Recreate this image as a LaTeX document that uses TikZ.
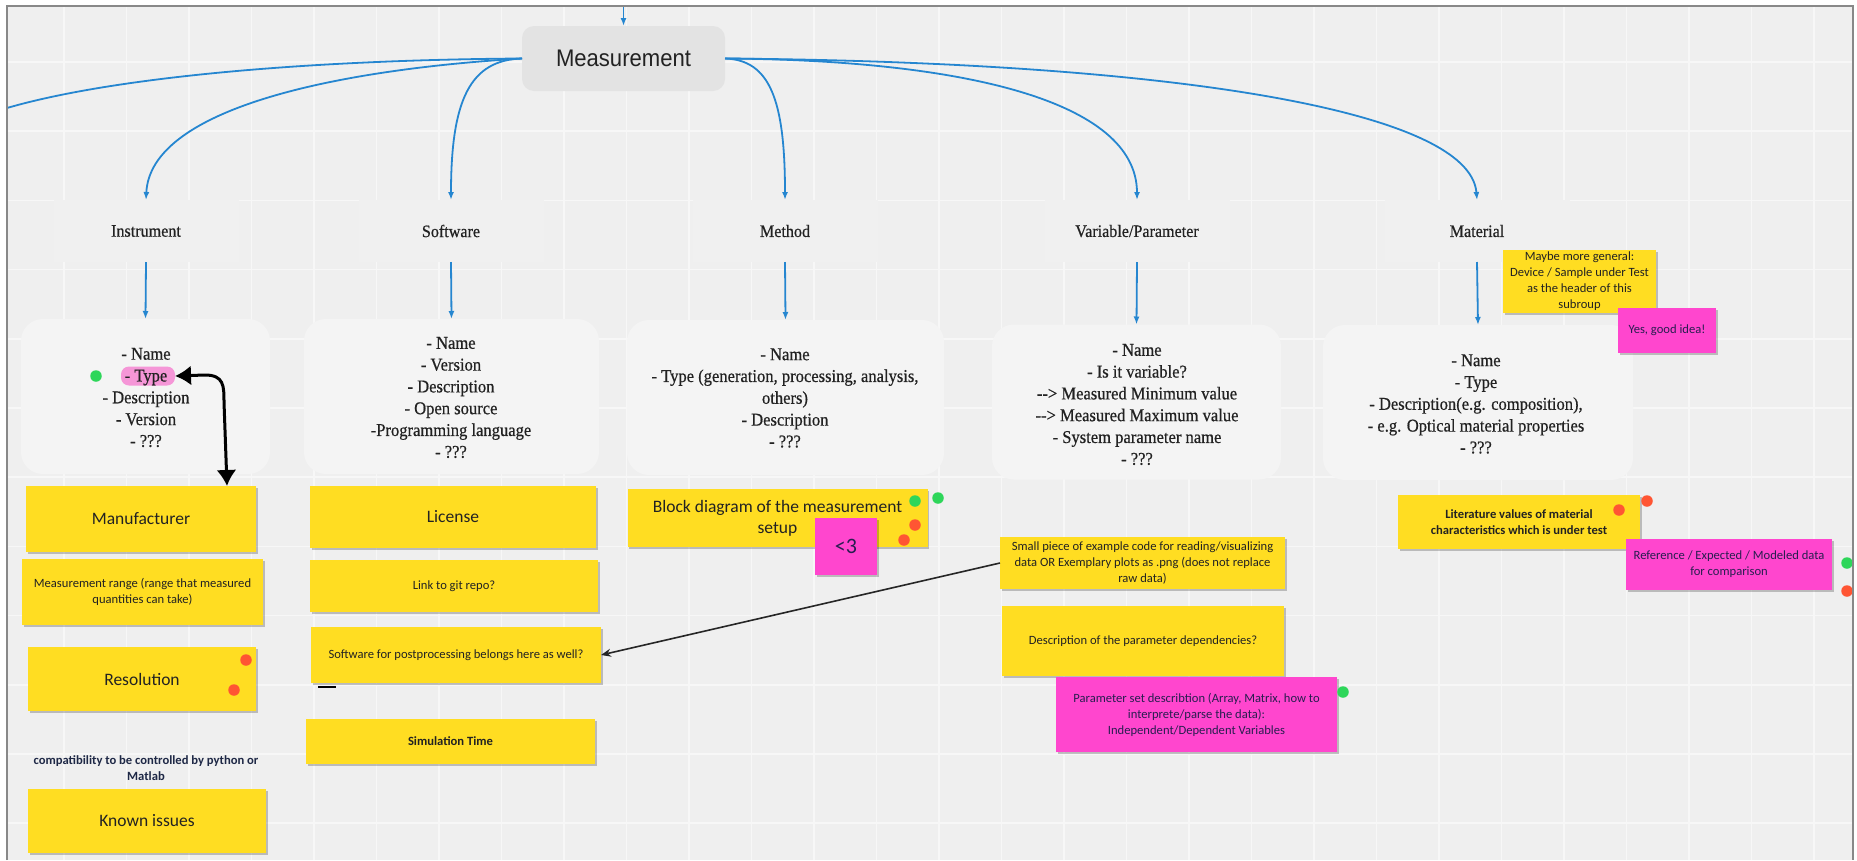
\documentclass[tikz,border=0pt]{standalone}
\usepackage{fontspec}
\setmainfont{Liberation Serif}
\newfontfamily\cserif[FakeStretch=0.92,FakeBold=0.6]{Liberation Serif}
\newfontfamily\stickyfont{Carlito}
\newfontfamily\measfont[FakeStretch=0.92]{Liberation Sans}
\usetikzlibrary{arrows.meta,shadows}
\definecolor{bgc}{RGB}{239,239,239}
\definecolor{gridc}{RGB}{247,247,247}
\definecolor{framec}{RGB}{136,136,136}
\definecolor{lineblue}{RGB}{37,134,208}
\definecolor{measfill}{RGB}{227,227,227}
\definecolor{boxfill}{RGB}{244,244,244}
\definecolor{lblfill}{RGB}{240,240,240}
\definecolor{stickyyellow}{RGB}{255,221,34}
\definecolor{stickypink}{RGB}{255,70,206}
\definecolor{hlpink}{RGB}{245,150,215}
\definecolor{dotgreen}{RGB}{46,214,90}
\definecolor{dotred}{RGB}{255,85,51}
\definecolor{textdark}{RGB}{34,34,34}
\definecolor{pinktext}{RGB}{40,30,80}
\definecolor{compatc}{RGB}{30,40,70}
\begin{document}
\begin{tikzpicture}[x=1pt,y=-1pt,
  every node/.style={inner sep=0pt, outer sep=0pt},
  meas/.style={fill=measfill, rounded corners=12pt, minimum width=203pt, minimum height=65pt, font=\measfont\fontsize{24}{26}\selectfont, text=textdark},
  lbl/.style={fill=lblfill, minimum width=185pt, minimum height=62pt, font=\cserif\fontsize{17.5}{20}\selectfont, text=textdark},
  cbox/.style={fill=boxfill, rounded corners=22pt, minimum height=155pt},
  ctext/.style={align=center, font=\cserif\fontsize{18}{21.8}\selectfont, text=textdark},
  sticky/.style={fill=stickyyellow, drop shadow={shadow xshift=1.5pt, shadow yshift=-2pt, opacity=0.22, fill=black}, align=center, text=textdark},
  pinky/.style={sticky, fill=stickypink, text=pinktext},
  sbig/.style={font=\stickyfont\fontsize{17.5}{21}\selectfont},
  ssmall/.style={font=\stickyfont\fontsize{12.6}{16}\selectfont},
  sbold/.style={font=\stickyfont\bfseries\fontsize{12.6}{16.5}\selectfont},
  dotc/.style={circle, minimum size=11.5pt},
  gdot/.style={dotc, fill=dotgreen},
  rdot/.style={dotc, fill=dotred},
  blueline/.style={draw=lineblue, line width=1.8pt},
  bluearrow/.style={blueline, -{Latex[length=8pt,width=6pt]}},
  dblarrow/.style={draw=black, line width=3pt, {Latex[length=16pt,width=20pt]}-{Latex[length=16pt,width=20pt]}},
  thinarrow/.style={draw=black!85, line width=1.6pt, -{Stealth[length=10pt,width=8pt]}},
]
\fill[white] (0,0) rectangle (1857,860);
\useasboundingbox (0,0) rectangle (1857,860);
\fill[bgc] (7,6) rectangle (1853,860);
\foreach \i in {1,...,29} { \draw[gridc, line width=1.5pt] ({1.5+62.5*\i},6) -- ({1.5+62.5*\i},860); }
\foreach \j in {0,...,11} { \draw[gridc, line width=1.5pt] (7,{62+69.2*\j}) -- (1853,{62+69.2*\j}); }

% central node
\node[meas] (meas) at (623.5,58.5) {Measurement};
\coordinate (topin) at (623.5,6);
\coordinate (offleft) at (7,108);

% category labels
\node[lbl] (instr) at (146,231) {Instrument};
\node[lbl] (soft) at (451,231) {Software};
\node[lbl] (meth) at (785,231) {Method};
\node[lbl] (var) at (1137,231) {Variable/Parameter};
\node[lbl] (mat) at (1477,231) {Material};

% content boxes
\node[cbox, minimum width=249pt] (instrB) at (145.5,396.5) {};
\node[cbox, minimum width=295pt] (softB) at (451.5,396.5) {};
\node[cbox, minimum width=317pt] (methB) at (785.5,397.5) {};
\node[cbox, minimum width=289pt] (varB) at (1136.5,402) {};
\node[cbox, minimum width=310pt] (matB) at (1478,402.5) {};

\node[fill=hlpink, rounded corners=8pt, minimum width=54pt, minimum height=19pt] (hl) at (148,376) {};

\node[ctext] (instrT) at (146,397.5) {- Name\\- Type\\- Description\\- Version\\- ???};
\node[ctext] (softT) at (451,397.5) {- Name\\- Version\\- Description\\- Open source\\-Programming language\\- ???};
\node[ctext] (methT) at (785,398) {- Name\\- Type (generation, processing, analysis,\\others)\\- Description\\- ???};
\node[ctext] (varT) at (1137,404.5) {- Name\\- Is it variable?\\\mbox{-}\mbox{-}> Measured Minimum value\\\mbox{-}\mbox{-}> Measured Maximum value\\- System parameter name\\- ???};
\node[ctext] (matT) at (1476,404) {- Name\\- Type\\- Description(e.g. composition),\\- e.g. Optical material properties\\- ???};

% stickies: instrument column
\node[sticky, sbig, minimum width=230pt, minimum height=66pt] (manuf) at (141,519) {Manufacturer};
\node[sticky, ssmall, minimum width=241pt, minimum height=66pt] (range) at (142.5,592) {Measurement range (range that measured\\quantities can take)};
\node[sticky, sbig, minimum width=228pt, minimum height=64pt] (resol) at (142,679) {Resolution};
\node[sbold, text=compatc, align=center] (compat) at (146,768) {compatibility to be controlled by python or\\Matlab};
\node[sticky, sbig, minimum width=238pt, minimum height=64pt] (known) at (147,821) {Known issues};

% software column
\node[sticky, sbig, minimum width=286pt, minimum height=62pt] (license) at (453,517) {License};
\node[sticky, ssmall, minimum width=288pt, minimum height=52pt] (git) at (454,586) {Link to git repo?};
\node[sticky, ssmall, minimum width=290pt, minimum height=56pt] (post) at (456,655) {Software for postprocessing belongs here as well?};
\draw[line width=2.5pt] (318,687) -- (336,687);
\node[sticky, sbold, minimum width=289pt, minimum height=45pt] (sim) at (450.5,741.5) {Simulation Time};

% method column
\node[sticky, sbig, minimum width=300pt, minimum height=58pt] (block) at (777.5,518) {Block diagram of the measurement\\setup};
\node[pinky, font=\stickyfont\fontsize{22}{24}\selectfont, minimum width=62pt, minimum height=57pt] (heart) at (846,546.5) {<3};

% variable column
\node[sticky, ssmall, minimum width=285pt, minimum height=52pt] (code) at (1142.5,563) {Small piece of example code for reading/visualizing\\data OR Exemplary plots as .png (does not replace\\raw data)};
\node[sticky, ssmall, minimum width=282pt, minimum height=70pt] (dep) at (1143,641) {Description of the parameter dependencies?};
\node[pinky, ssmall, minimum width=281pt, minimum height=75pt] (pset) at (1196.5,714.5) {Parameter set describtion (Array, Matrix, how to\\interprete/parse the data):\\Independent/Dependent Variables};

% material column
\node[sticky, ssmall, minimum width=153pt, minimum height=63pt] (maybe) at (1579.5,281.5) {Maybe more general:\\Device / Sample under Test\\as the header of this\\subroup};
\node[pinky, ssmall, minimum width=98pt, minimum height=45pt] (yes) at (1667,330.5) {Yes, good idea!};
\node[sticky, sbold, minimum width=242pt, minimum height=54pt] (lit) at (1519,522) {Literature values of material\\characteristics which is under test};
\node[pinky, ssmall, minimum width=206pt, minimum height=51pt] (ref) at (1729,564.5) {Reference / Expected / Modeled data\\for comparison};

% dots
\node[gdot] (g1) at (96,376) {};
\node[rdot] (r1) at (246,660) {};
\node[rdot] (r2) at (234,690) {};
\node[gdot] (g2) at (915,501) {};
\node[gdot] (g3) at (938,498) {};
\node[rdot] (r3) at (915,525) {};
\node[rdot] (r4) at (904,540) {};
\node[gdot] (g4) at (1343,692) {};
\node[rdot] (r5) at (1619,510) {};
\node[rdot] (r6) at (1647,501) {};
\node[gdot] (g5) at (1847,563) {};
\node[rdot] (r7) at (1847,591) {};

% blue connectors
\draw[bluearrow] (topin) -- (meas.north);
\draw[blueline] (meas.west) .. controls (300,60) and (110,78) .. (offleft);
\draw[bluearrow] (meas.west) .. controls (330,70) and (150,110) .. (instr.north);
\draw[bluearrow] (meas.west) .. controls (470,60) and (451,100) .. (soft.north);
\draw[bluearrow] (meas.east) .. controls (770,60) and (785,100) .. (meth.north);
\draw[bluearrow] (meas.east) .. controls (960,60) and (1137,100) .. (var.north);
\draw[bluearrow] (meas.east) .. controls (1170,62) and (1470,110) .. (mat.north);
\draw[bluearrow] (instr.south) -- (instrB.north);
\draw[bluearrow] (soft.south) -- (softB.north);
\draw[bluearrow] (meth.south) -- (methB.north);
\draw[bluearrow] (var.south) -- (varB.north);
\draw[bluearrow] (mat.south) -- (matB.north);

% black connectors
\coordinate (mantop) at (227,486);
\draw[dblarrow] (hl.east) -- (205,375) .. controls (224,375) and (224,386) .. (224,402) -- (mantop);
\draw[thinarrow] (code.west) -- (post.east);

% frame
\draw[framec, line width=2.5pt] (7,860) -- (7,6) -- (1853,6) -- (1853,860);
\end{tikzpicture}
\end{document}
